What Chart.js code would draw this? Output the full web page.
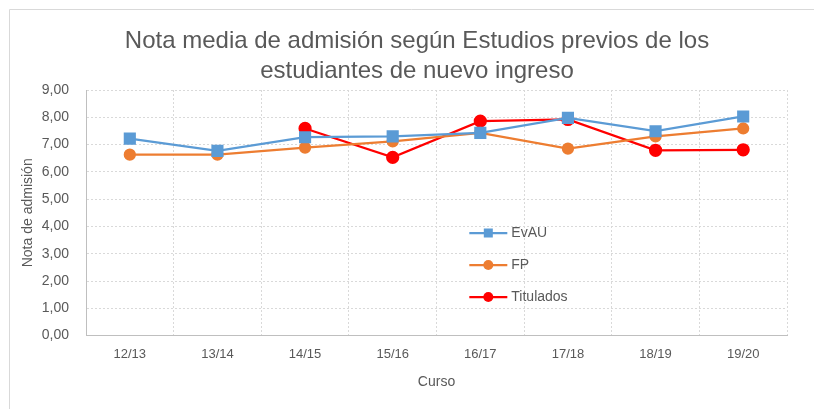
<!DOCTYPE html>
<html><head><meta charset="utf-8">
<script src="https://cdn.jsdelivr.net/npm/chart.js@4"></script>
<style>html,body{margin:0;padding:0;background:#fff}#wrap{width:814px;height:409px}</style>
</head><body><div id="wrap"><canvas id="c" width="814" height="409"></canvas></div>
<script>
const categories = ["12/13","13/14","14/15","15/16","16/17","17/18","18/19","19/20"];
const evau = [7.22, 6.77, 7.27, 7.30, 7.43, 7.98, 7.49, 8.03];
const fp = [6.63, 6.63, 6.89, 7.12, 7.43, 6.85, 7.30, 7.59];
const titulados = [null, null, 7.59, 6.53, 7.86, 7.92, 6.79, 6.81];
const seriesNames = ["EvAU","FP","Titulados"];
const yTicks = [0,1,2,3,4,5,6,7,8,9];
const titleLines = ["Nota media de admisión según Estudios previos de los","estudiantes de nuevo ingreso"];

const FONT = "'Liberation Sans', Arial, sans-serif";
const TXT = "#595959";

const borderPlugin = {
  id:'border',
  beforeDraw(chart){
    const ctx = chart.ctx;
    ctx.save();
    ctx.strokeStyle = '#d9d9d9'; ctx.lineWidth = 1;
    ctx.beginPath();
    ctx.moveTo(9.5, 409); ctx.lineTo(9.5, 9.5); ctx.lineTo(814, 9.5);
    ctx.stroke();
    ctx.restore();
  },
  afterDraw(chart){
    const ctx = chart.ctx;
    ctx.save();
    ctx.fillStyle = TXT; ctx.font = "24px " + FONT;
    ctx.textAlign = 'center'; ctx.textBaseline = 'alphabetic';
    titleLines.forEach((t, i) => ctx.fillText(t, 417, 48 + i*30));
    ctx.restore();
  }
};

const legendPlugin = {
  id:'innerLegend',
  afterDatasetsDraw(chart){
    const ctx = chart.ctx;
    const xs = chart.scales.x, ys = chart.scales.y;
    const x0 = xs.getPixelForValue(4) - 11;
    chart.data.datasets.forEach((ds, i) => {
      const y = Math.round(ys.getPixelForValue(3.77 - i*1.18));
      ctx.save();
      ctx.strokeStyle = ds.borderColor; ctx.lineWidth = 2.25;
      ctx.beginPath(); ctx.moveTo(x0, y); ctx.lineTo(x0+38, y); ctx.stroke();
      ctx.fillStyle = ds.pointBackgroundColor;
      if (ds.pointStyle === 'rect') { ctx.fillRect(x0+19-4.5, y-4.5, 9, 9); }
      else { ctx.beginPath(); ctx.arc(x0+19, y, 5, 0, Math.PI*2); ctx.fill(); }
      ctx.fillStyle = TXT; ctx.font = "14px " + FONT; ctx.textBaseline = 'middle';
      ctx.fillText(ds.label, x0+42, y);
      ctx.restore();
    });
  }
};

new Chart(document.getElementById('c'), {
  type:'line',
  data:{
    labels: categories,
    datasets:[
      {label:seriesNames[0], data:evau, borderColor:'#5b9bd5', backgroundColor:'#5b9bd5', pointBackgroundColor:'#5b9bd5', pointBorderColor:'#5b9bd5', pointStyle:'rect', pointRadius:7, borderWidth:2.25, tension:0},
      {label:seriesNames[1], data:fp, borderColor:'#ed7d31', backgroundColor:'#ed7d31', pointBackgroundColor:'#ed7d31', pointBorderColor:'#ed7d31', pointStyle:'circle', pointRadius:5, borderWidth:2.25, tension:0},
      {label:seriesNames[2], data:titulados, borderColor:'#ff0000', backgroundColor:'#ff0000', pointBackgroundColor:'#ff0000', pointBorderColor:'#ff0000', pointStyle:'circle', pointRadius:5.5, borderWidth:2.25, tension:0}
    ]
  },
  options:{
    responsive:false, animation:false, devicePixelRatio:1,
    layout:{padding:{left:16, right:27, top:0, bottom:14}},
    plugins:{
      legend:{display:false},
      tooltip:{enabled:false},
      title:{display:true, text:titleLines, color:'rgba(0,0,0,0)', font:{family:FONT, size:24, weight:'normal', lineHeight:1.25}, padding:{top:27, bottom:3}}
    },
    scales:{
      x:{
        offset:true,
        grid:{offset:true, color:'#d9d9d9', tickLength:0, drawTicks:false},
        border:{display:true, color:'#bfbfbf', dash:[2,2]},
        ticks:{color:TXT, font:{family:FONT, size:13}, padding:11, maxRotation:0},
        title:{display:true, text:'Curso', color:TXT, font:{family:FONT, size:14}, padding:{top:1}}
      },
      y:{
        min:0, max:9,
        afterBuildTicks(s){ s.ticks = yTicks.map(v=>({value:v})); },
        afterFit(s){ s.width = 70; },
        grid:{color:'#d9d9d9', drawTicks:false},
        border:{display:true, color:'#bfbfbf', dash:[2,2]},
        ticks:{color:TXT, font:{family:FONT, size:14}, padding:17, callback:v=>v.toFixed(2).replace('.',',')},
        title:{display:true, text:'Nota de admisión', color:TXT, font:{family:FONT, size:14}, padding:{top:4, bottom:2}}
      }
    }
  },
  plugins:[borderPlugin, legendPlugin]
});
</script></body></html>
